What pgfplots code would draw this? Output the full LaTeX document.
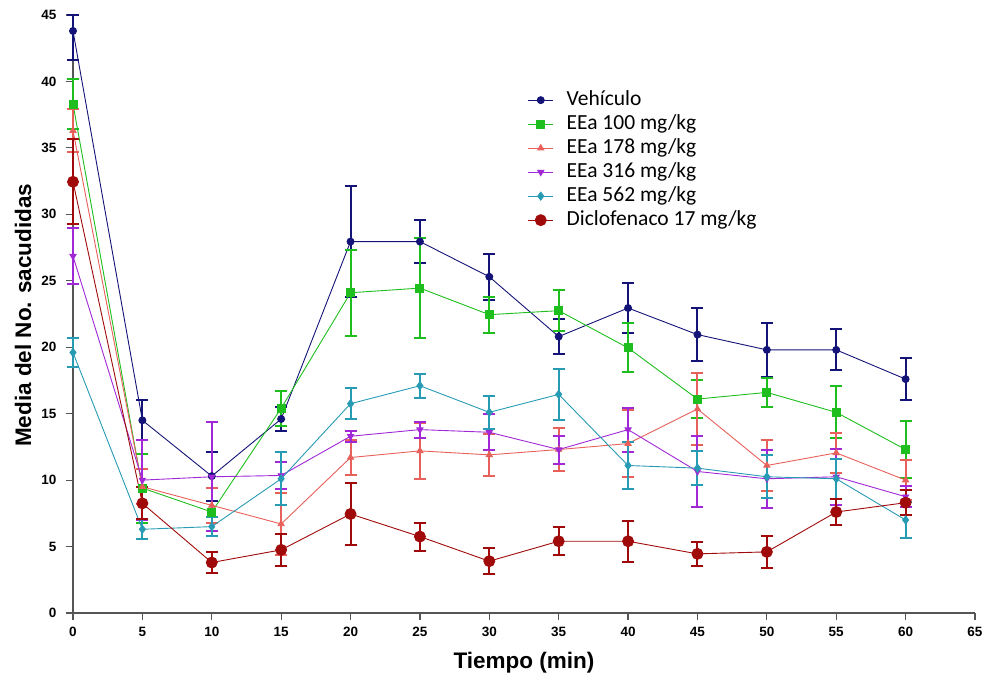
\documentclass[border=0pt]{standalone}
\usepackage{pgfplots}
\pgfplotsset{compat=1.18}
\usepackage{fontspec}
\setmainfont{Liberation Sans}
\newfontfamily\calibri{Carlito}
\definecolor{navyc}{RGB}{20,20,120}
\definecolor{greenc}{RGB}{30,190,30}
\definecolor{salmonc}{RGB}{232,96,90}
\definecolor{purplec}{RGB}{160,40,215}
\definecolor{tealc}{RGB}{40,155,180}
\definecolor{redc}{RGB}{160,10,10}
\definecolor{axisgray}{RGB}{85,85,85}
\begin{document}
\begin{tikzpicture}
\begin{axis}[
  width=902pt, height=598pt, scale only axis,
  xmin=0, xmax=65, ymin=0, ymax=45,
  xtick={0,5,...,65}, ytick={0,5,...,45},
  axis x line*=bottom, axis y line*=left,
  axis line style={draw=axisgray, line width=1.2pt},
  tick style={draw=axisgray, line width=1.2pt},
  tick align=outside, major tick length=7pt,
  tick label style={font=\bfseries\fontsize{13.5}{15}\selectfont},
  yticklabel style={xshift=-6pt},
  xticklabel style={yshift=-4pt},
  /pgf/number format/assume math mode=true,
  clip=false,
  xlabel={Tiempo (min)}, ylabel={Media del No. sacudidas},
  label style={font=\bfseries\fontsize{22.5}{26}\selectfont},
  xlabel style={at={(axis description cs:0.5,0)}, anchor=base, yshift=-55pt},
  ylabel style={at={(axis description cs:-0.0554,0.498)}, anchor=center},
  every axis plot/.append style={line width=0.9pt},
  legend style={at={(rel axis cs:0.504,0.878)}, anchor=north west, draw=none, fill=none,
    font=\calibri\fontsize{21.5}{24}\selectfont, row sep=0pt, inner sep=0pt,
    nodes={inner sep=1pt, text height=16pt, text depth=6pt},
    /tikz/every odd column/.append style={column sep=12pt}},
  legend cell align=left,
  legend image code/.code={\draw[mark repeat=2,mark phase=2] plot coordinates {(0pt,0pt) (12.5pt,0pt) (25pt,0pt)};},
  error bars/error bar style={line width=2pt},
  error bars/error mark=-,
  error bars/error mark options={line width=2pt, mark size=6pt, rotate=90},
]
\addplot[color=navyc, mark=*, mark size=3.5pt,
  error bars/.cd, y dir=both, y explicit]
  table[x=x, y=y, y error plus=ep, y error minus=em] {
x y ep em
0 43.8 1.2 2.2
5 14.5 1.5 1.5
10 10.3 1.85 1.85
15 14.6 0.9 0.9
20 27.95 4.2 4.2
25 27.95 1.6 1.6
30 25.3 1.75 1.75
35 20.8 1.3 1.3
40 22.95 1.9 1.9
45 20.95 2.0 2.0
50 19.8 2.05 2.05
55 19.8 1.55 1.55
60 17.6 1.6 1.6
};
\addlegendentry{Vehículo}
\addplot[color=greenc, mark=square*, mark size=4pt,
  error bars/.cd, y dir=both, y explicit]
  table[x=x, y=y, y error=e] {
x y e
0 38.3 1.9
5 9.4 2.6
10 7.6 1.8
15 15.4 1.3
20 24.1 3.25
25 24.45 3.75
30 22.45 1.35
35 22.75 1.55
40 19.95 1.85
45 16.1 1.45
50 16.6 1.1
55 15.1 1.95
60 12.3 2.15
};
\addlegendentry{EEa 100 mg/kg}
\addplot[color=salmonc, mark=triangle*, mark size=3.5pt,
  error bars/.cd, y dir=both, y explicit]
  table[x=x, y=y, y error=e] {
x y e
0 36.3 1.6
5 9.5 1.3
10 8.1 1.3
15 6.7 2.3
20 11.7 1.3
25 12.2 2.1
30 11.9 1.6
35 12.3 1.65
40 12.75 2.5
45 15.35 2.7
50 11.1 1.95
55 12.05 1.5
60 10.0 1.5
};
\addlegendentry{EEa 178 mg/kg}
\addplot[color=purplec, mark=triangle*, mark options={rotate=180}, mark size=3.5pt,
  error bars/.cd, y dir=both, y explicit]
  table[x=x, y=y, y error=e] {
x y e
0 26.85 2.1
5 10.0 3.0
10 10.25 4.1
15 10.35 1.0
20 13.3 0.4
25 13.8 0.6
30 13.6 1.35
35 12.3 1.05
40 13.8 1.65
45 10.65 2.65
50 10.1 2.2
55 10.25 2.1
60 8.75 0.8
};
\addlegendentry{EEa 316 mg/kg}
\addplot[color=tealc, mark=diamond*, mark size=4pt,
  error bars/.cd, y dir=both, y explicit]
  table[x=x, y=y, y error=e] {
x y e
0 19.6 1.1
5 6.3 0.75
10 6.5 0.7
15 10.1 2.0
20 15.75 1.15
25 17.1 0.9
30 15.1 1.25
35 16.45 1.9
40 11.1 1.8
45 10.9 1.3
50 10.25 1.63
55 10.1 1.5
60 7.0 1.38
};
\addlegendentry{EEa 562 mg/kg}
\addplot[color=redc, mark=*, mark size=5.5pt,
  error bars/.cd, y dir=both, y explicit]
  table[x=x, y=y, y error=e] {
x y e
0 32.45 3.2
5 8.25 1.2
10 3.8 0.8
15 4.75 1.2
20 7.45 2.3
25 5.75 1.05
30 3.9 1.0
35 5.4 1.05
40 5.4 1.55
45 4.45 0.9
50 4.6 1.2
55 7.6 0.97
60 8.3 0.95
};
\addlegendentry{Diclofenaco 17 mg/kg}
\end{axis}
\pgfresetboundingbox
\useasboundingbox (-73pt,-60pt) rectangle (913pt,613pt);
\end{tikzpicture}
\end{document}
